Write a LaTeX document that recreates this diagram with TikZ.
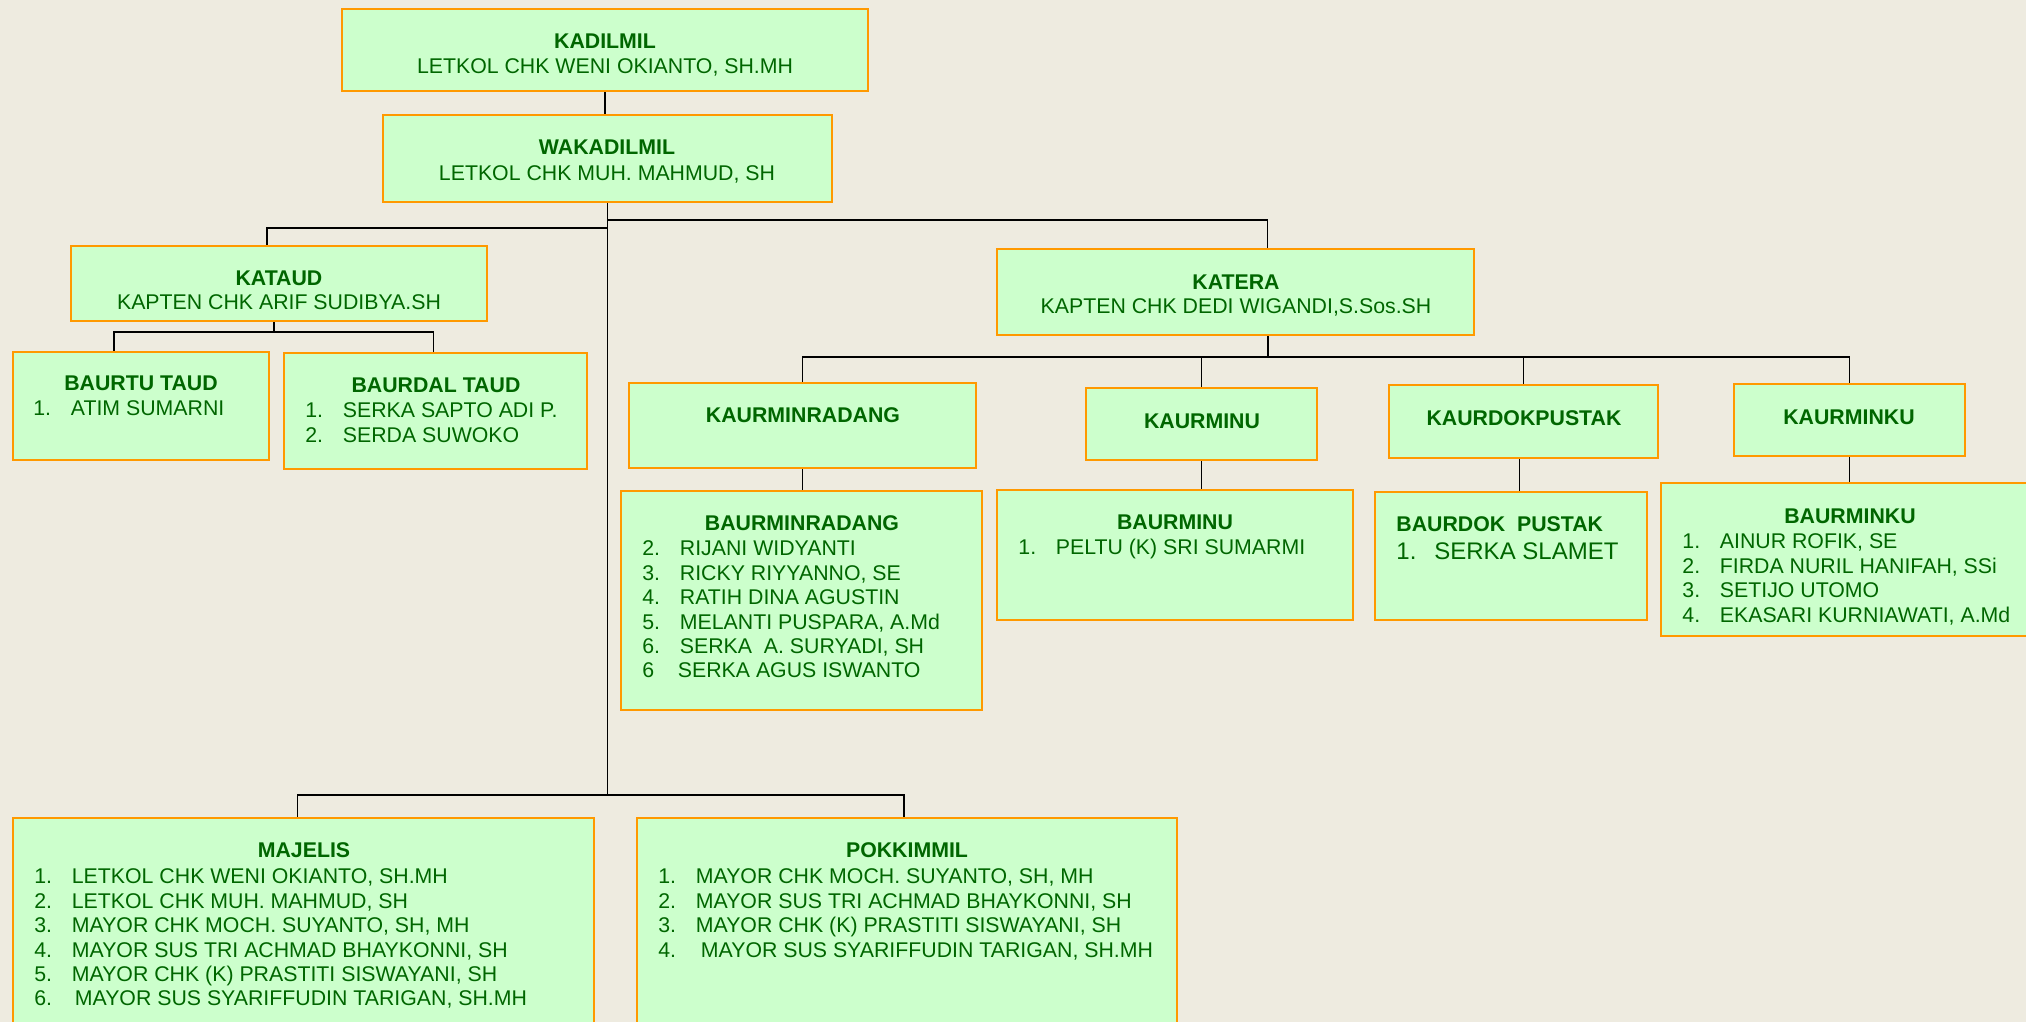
\documentclass[tikz,border=0pt]{standalone}
\usepackage{fontspec}
\setmainfont{Liberation Sans}
\usetikzlibrary{fit}
\definecolor{bgc}{RGB}{238,235,224}
\definecolor{boxfill}{RGB}{204,255,204}
\definecolor{boxline}{RGB}{255,153,0}
\definecolor{txtc}{RGB}{0,102,0}
\tikzset{
  box/.style={draw=boxline, fill=boxfill, line width=1.2pt, inner sep=0pt, rectangle},
  conn/.style={draw=black, line width=0.8pt},
  ttl/.style={text=txtc, font=\fontsize{10.65}{12.2}\selectfont\bfseries, inner sep=0pt, anchor=base},
  nm/.style={text=txtc, font=\fontsize{10.65}{12.2}\selectfont, inner sep=0pt, anchor=base},
  lst/.style={text=txtc, font=\fontsize{10.65}{12.2}\selectfont, inner sep=0pt, anchor=north west},
}
\newcommand\itm[2]{\makebox[18.75pt][l]{#1}#2}
\begin{document}
\begin{tikzpicture}[x=0.5pt,y=-0.5pt]
\useasboundingbox (0,0) rectangle (2026,1022);
\clip (0,0) rectangle (2026,1022);
\fill[bgc] (0,0) rectangle (2026,1022);

% boxes
\node[box, fit={(342,9) (868,91)}] (kadilmil) {};
\node[box, fit={(383,115) (832,202)}] (wakadilmil) {};
\node[box, fit={(71,246) (487,321)}] (kataud) {};
\node[box, fit={(997,249) (1474,335)}] (katera) {};
\node[box, fit={(13,352) (269,460)}] (baurtu) {};
\node[box, fit={(284,353) (587,469)}] (baurdal) {};
\node[box, fit={(629,383) (976,468)}] (kaurminradang) {};
\node[box, fit={(1086,388) (1317,460)}] (kaurminu) {};
\node[box, fit={(1389,385) (1658,458)}] (kaurdokpustak) {};
\node[box, fit={(1734,384) (1965,456)}] (kaurminku) {};
\node[box, fit={(621,491) (982,710)}] (baurminradang) {};
\node[box, fit={(997,490) (1353,620)}] (baurminu) {};
\node[box, fit={(1375,492) (1647,620)}] (baurdok) {};
\node[box, fit={(1661,483) (2040,636)}] (baurminku) {};
\node[box, fit={(13,818) (594,1040)}] (majelis) {};
\node[box, fit={(637,818) (1177,1040)}] (pokkimmil) {};

% connectors
\coordinate (tb) at (607.5,795);
\coordinate (jR) at (607.5,220);
\coordinate (jL) at (607.5,228);
\coordinate (kb) at (274,332);
\coordinate (kt) at (1268,357);
\draw[conn] (kadilmil.south) -- (kadilmil.south |- wakadilmil.north);
\draw[conn] (wakadilmil.south) -- (tb);
\draw[conn] (jR) -| ([xshift=16pt]katera.north);
\draw[conn] (jL) -| ([xshift=-6pt]kataud.north);
\draw[conn] (kataud.south -| kb) -- (kb);
\draw[conn] ([xshift=-13.5pt]baurtu.north) |- (kb) -| ([xshift=-1pt]baurdal.north);
\draw[conn] (katera.south -| kt) -- (kt);
\draw[conn] (kaurminradang.north) |- (kt) -| (kaurminku.north);
\draw[conn] (kaurminu.north) -- (kaurminu.north |- kt);
\draw[conn] (kaurdokpustak.north) -- (kaurdokpustak.north |- kt);
\draw[conn] (kaurminradang.south) -- (kaurminradang.south |- baurminradang.north);
\draw[conn] (kaurminu.south) -- (kaurminu.south |- baurminu.north);
\draw[conn] ([xshift=-2pt]kaurdokpustak.south) -- ([xshift=-2pt]kaurdokpustak.south |- baurdok.north);
\draw[conn] (kaurminku.south) -- (kaurminku.south |- baurminku.north);
\draw[conn] ([xshift=-3pt]majelis.north) |- (tb) -| ([xshift=-1.5pt]pokkimmil.north);

% texts
\node[ttl] (kadilmil-t) at (605,48.6) {KADILMIL};
\node[nm] (kadilmil-n) at (605,73.6) {LETKOL CHK WENI OKIANTO, SH.MH};
\node[ttl] (wakadilmil-t) at (607,154.6) {WAKADILMIL};
\node[nm] (wakadilmil-n) at (607,180.6) {LETKOL CHK MUH. MAHMUD, SH};
\node[ttl] (kataud-t) at (279,285.6) {KATAUD};
\node[nm] (kataud-n) at (279,309.6) {KAPTEN CHK ARIF SUDIBYA.SH};
\node[ttl] (katera-t) at (1236,289.6) {KATERA};
\node[nm] (katera-n) at (1236,313.6) {KAPTEN CHK DEDI WIGANDI,S.Sos.SH};

\node[ttl] (baurtu-t) at (141,390.6) {BAURTU TAUD};
\node[lst] (baurtu-l) at (33,398.5) {\begin{tabular}{@{}l@{}}\itm{1.}{ATIM SUMARNI}\end{tabular}};
\node[ttl] (baurdal-t) at (436,392.6) {BAURDAL TAUD};
\node[lst] (baurdal-l) at (305,400.5) {\begin{tabular}{@{}l@{}}\itm{1.}{SERKA SAPTO ADI P.}\\ \itm{2.}{SERDA SUWOKO}\end{tabular}};

\node[ttl] (kaurminradang-t) at (803,422.6) {KAURMINRADANG};
\node[ttl] (kaurminu-t) at (1202,428.6) {KAURMINU};
\node[ttl] (kaurdokpustak-t) at (1524,425.6) {KAURDOKPUSTAK};
\node[ttl] (kaurminku-t) at (1849,424.6) {KAURMINKU};

\node[ttl] (baurminradang-t) at (802,530.6) {BAURMINRADANG};
\node[lst] (baurminradang-l) at (642,538.5) {\begin{tabular}{@{}l@{}}
\itm{2.}{RIJANI WIDYANTI}\\
\itm{3.}{RICKY RIYYANNO, SE}\\
\itm{4.}{RATIH DINA AGUSTIN}\\
\itm{5.}{MELANTI PUSPARA, A.Md}\\
\itm{6.}{SERKA\ \ A. SURYADI, SH}\\
\itm{6}{\hspace{-1pt}SERKA AGUS ISWANTO}\end{tabular}};

\node[ttl] (baurminu-t) at (1175,529.6) {BAURMINU};
\node[lst] (baurminu-l) at (1018,537.5) {\begin{tabular}{@{}l@{}}\itm{1.}{PELTU (K) SRI SUMARMI}\end{tabular}};

\node[ttl, anchor=base west] (baurdok-t) at (1396,531.6) {BAURDOK\ \ PUSTAK};
\node[lst, font=\fontsize{12}{13.8}\selectfont] (baurdok-l) at (1396,539.3) {\begin{tabular}{@{}l@{}}\makebox[19pt][l]{1.}SERKA SLAMET\end{tabular}};

\node[ttl] (baurminku-t) at (1850,523.6) {BAURMINKU};
\node[lst] (baurminku-l) at (1682,531.5) {\begin{tabular}{@{}l@{}}
\itm{1.}{AINUR ROFIK, SE}\\
\itm{2.}{FIRDA NURIL HANIFAH, SSi}\\
\itm{3.}{SETIJO UTOMO}\\
\itm{4.}{EKASARI KURNIAWATI, A.Md}\end{tabular}};

\node[ttl] (majelis-t) at (304,857.6) {MAJELIS};
\node[lst] (majelis-l) at (34,866.5) {\begin{tabular}{@{}l@{}}
\itm{1.}{LETKOL CHK WENI OKIANTO, SH.MH}\\
\itm{2.}{LETKOL CHK MUH. MAHMUD, SH}\\
\itm{3.}{MAYOR CHK MOCH. SUYANTO, SH, MH}\\
\itm{4.}{MAYOR SUS TRI ACHMAD BHAYKONNI, SH}\\
\itm{5.}{MAYOR CHK (K) PRASTITI SISWAYANI, SH}\\
\itm{6.}{\hspace{1.5pt}MAYOR SUS SYARIFFUDIN TARIGAN, SH.MH}\end{tabular}};

\node[ttl] (pokkimmil-t) at (907,857.6) {POKKIMMIL};
\node[lst] (pokkimmil-l) at (658,866.5) {\begin{tabular}{@{}l@{}}
\itm{1.}{MAYOR CHK MOCH. SUYANTO, SH, MH}\\
\itm{2.}{MAYOR SUS TRI ACHMAD BHAYKONNI, SH}\\
\itm{3.}{MAYOR CHK (K) PRASTITI SISWAYANI, SH}\\
\itm{4.}{\hspace{2.5pt}MAYOR SUS SYARIFFUDIN TARIGAN, SH.MH}\end{tabular}};
\end{tikzpicture}
\end{document}
